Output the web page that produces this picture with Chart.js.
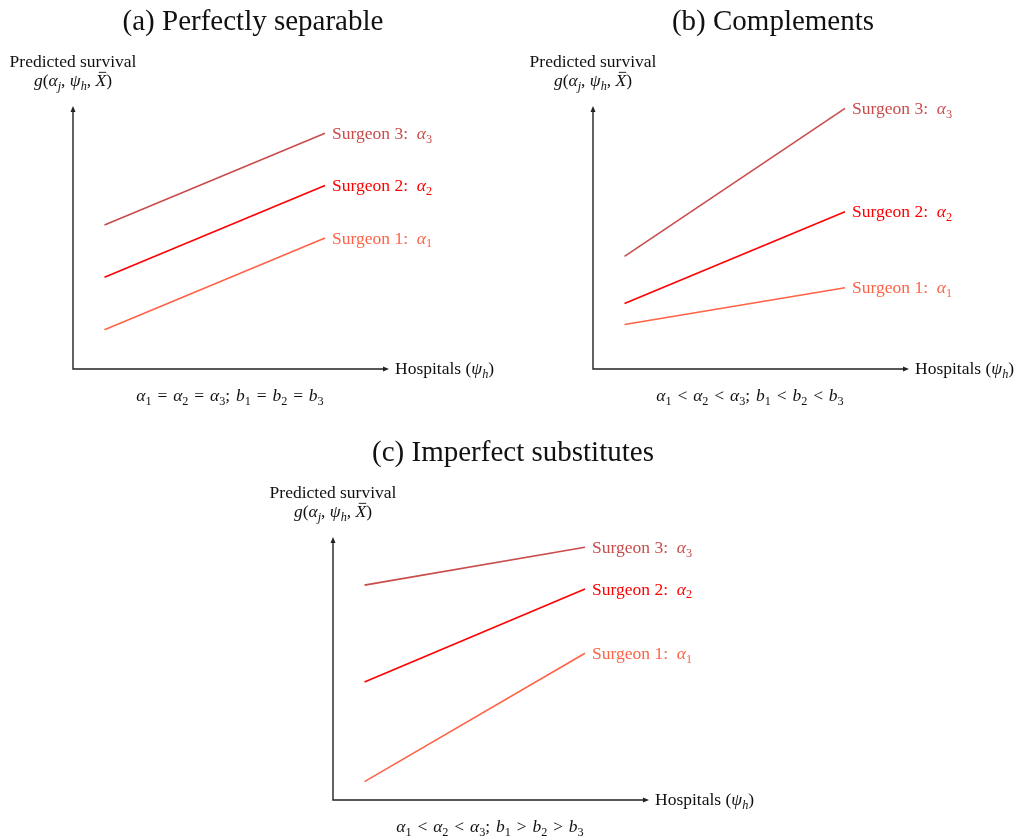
<!DOCTYPE html>
<html>
<head>
<meta charset="utf-8">
<script src="https://cdn.jsdelivr.net/npm/chart.js@4/dist/chart.umd.min.js"></script>
<style>
  body { margin: 0; background: #fff; width: 1019px; height: 837px; position: relative; overflow: hidden; }
  canvas { position: absolute; }
</style>
</head>
<body>
<canvas id="chart-a" width="510" height="415" style="left:0px;top:0px"></canvas>
<canvas id="chart-b" width="510" height="415" style="left:520px;top:0px"></canvas>
<canvas id="chart-c" width="510" height="415" style="left:260px;top:431px"></canvas>
<script>
// Datos (unidades arbitrarias, eje 0..10)
const hospitals = [1, 8]
const surgeonNames = ["Surgeon 1", "Surgeon 2", "Surgeon 3"]
const surgeonColors = ["#ff6347", "#ff0000", "#c94c4c"]

const separableS1 = [1.5, 5]
const separableS2 = [3.5, 7]
const separableS3 = [5.5, 9]

const complementsS1 = [1.7, 3.1]
const complementsS2 = [2.5, 6]
const complementsS3 = [4.3, 9.95]

const substitutesS1 = [0.7, 5.6]
const substitutesS2 = [4.5, 8.05]
const substitutesS3 = [8.2, 9.65]

const FONT = '"Liberation Serif", "DejaVu Serif", serif'
const TXT = 17.5

// Texto con cursivas y subíndices: [texto, estilo] r=roman i=italic ib=italic con barra s=sub roman si=sub italic
function drawRich(ctx, parts, x, y, align, size, color) {
  const isSub = (st) => st === "s" || st === "si"
  const fontFor = (st) => {
    const s = isSub(st) ? size * 0.7 : size
    const it = st === "i" || st === "si" || st === "ib" ? "italic " : ""
    return `${it}${s}px ${FONT}`
  }
  let w = 0
  parts.forEach(([t, st]) => {
    ctx.font = fontFor(st)
    w += ctx.measureText(t).width
  })
  let cx = align === "center" ? x - w / 2 : x
  ctx.fillStyle = color
  ctx.strokeStyle = color
  ctx.textBaseline = "alphabetic"
  ctx.textAlign = "left"
  parts.forEach(([t, st]) => {
    ctx.font = fontFor(st)
    const dy = isSub(st) ? size * 0.22 : 0
    const tw = ctx.measureText(t).width
    ctx.fillText(t, cx, y + dy)
    if (st === "ib") {
      ctx.lineWidth = 0.9
      ctx.beginPath()
      ctx.moveTo(cx + tw * 0.3, y - size * 0.78)
      ctx.lineTo(cx + tw * 1.0, y - size * 0.78)
      ctx.stroke()
    }
    cx += tw
  })
}

function arrow(ctx, x, y, dir) {
  ctx.beginPath()
  if (dir === "up") {
    ctx.moveTo(x, y - 1)
    ctx.lineTo(x - 2.5, y + 5)
    ctx.lineTo(x + 2.5, y + 5)
  } else {
    ctx.moveTo(x + 1, y)
    ctx.lineTo(x - 5, y - 2.5)
    ctx.lineTo(x - 5, y + 2.5)
  }
  ctx.closePath()
  ctx.fill()
}

const yLabel = [["g", "i"], ["(", "r"], ["α", "i"], ["j", "si"], [", ", "r"], ["ψ", "i"], ["h", "si"], [", ", "r"], ["X", "ib"], [")", "r"]]
const xLabel = [["Hospitals (", "r"], ["ψ", "i"], ["h", "si"], [")", "r"]]

const panelPlugin = {
  id: "panel",
  afterDraw(chart, args, opts) {
    const ctx = chart.ctx
    const a = chart.chartArea
    ctx.save()

    // Ejes con flechas
    ctx.strokeStyle = "#222"
    ctx.fillStyle = "#222"
    ctx.lineWidth = 1.4
    ctx.beginPath()
    ctx.moveTo(a.left, a.top + 2)
    ctx.lineTo(a.left, a.bottom)
    ctx.lineTo(a.right - 2, a.bottom)
    ctx.stroke()
    arrow(ctx, a.left, a.top, "up")
    arrow(ctx, a.right, a.bottom, "right")

    // Títulos y etiquetas
    drawRich(ctx, [[opts.title, "r"]], 253, 30, "center", 29, "#111")
    drawRich(ctx, [["Predicted survival", "r"]], a.left, 67, "center", TXT, "#111")
    drawRich(ctx, yLabel, a.left, 86, "center", TXT, "#111")
    drawRich(ctx, xLabel, a.right + 7, a.bottom + 5, "left", TXT, "#111")
    drawRich(ctx, opts.note, 230, a.bottom + 32, "center", TXT, "#111")

    // Etiquetas de cada cirujano al final de su línea
    chart.data.datasets.forEach((ds, i) => {
      const pt = chart.getDatasetMeta(i).data[1]
      drawRich(ctx, [[ds.label + ":  ", "r"], ["α", "i"], [String(i + 1), "s"]],
        pt.x + 7, pt.y + 5.5, "left", TXT, ds.borderColor)
    })
    ctx.restore()
  },
}

function note(rel1, rel2) {
  const r1 = `\u2004${rel1}\u2004`
  const r2 = `\u2004${rel2}\u2004`
  return [
    ["α", "i"], ["1", "s"], [r1, "r"], ["α", "i"], ["2", "s"], [r1, "r"], ["α", "i"], ["3", "s"],
    [";\u2004", "r"], ["b", "i"], ["1", "s"], [r2, "r"], ["b", "i"], ["2", "s"], [r2, "r"], ["b", "i"], ["3", "s"],
  ]
}

function createPanel(id, title, noteParts, series) {
  const ctx = document.getElementById(id).getContext("2d")
  new Chart(ctx, {
    type: "line",
    data: {
      datasets: series.map((vals, i) => ({
        label: surgeonNames[i],
        data: hospitals.map((x, k) => ({ x: x, y: vals[k] })),
        borderColor: surgeonColors[i],
        borderWidth: 1.6,
        pointRadius: 0,
        fill: false,
      })),
    },
    options: {
      responsive: false,
      animation: false,
      layout: { padding: { left: 73, top: 107, right: 122, bottom: 46 } },
      scales: {
        x: { type: "linear", min: 0, max: 10, display: false },
        y: { type: "linear", min: 0, max: 10, display: false },
      },
      plugins: {
        legend: { display: false },
        tooltip: { enabled: false },
        panel: { title: title, note: noteParts },
      },
    },
    plugins: [panelPlugin],
  })
}

createPanel("chart-a", "(a) Perfectly separable", note("=", "="), [separableS1, separableS2, separableS3])
createPanel("chart-b", "(b) Complements", note("<", "<"), [complementsS1, complementsS2, complementsS3])
createPanel("chart-c", "(c) Imperfect substitutes", note("<", ">"), [substitutesS1, substitutesS2, substitutesS3])
</script>
</body>
</html>
